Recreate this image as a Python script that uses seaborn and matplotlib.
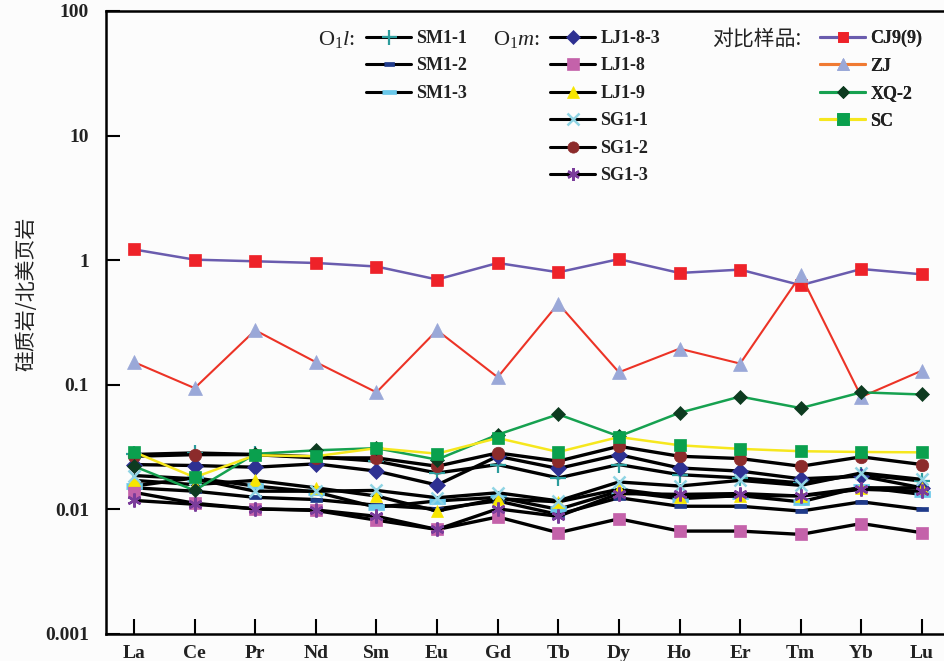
import numpy as np
import pandas as pd
import matplotlib
matplotlib.use("Agg")
import matplotlib.pyplot as plt
from matplotlib.lines import Line2D
import seaborn as sns

# Rare earth elements (x axis)
elements = ["La", "Ce", "Pr", "Nd", "Sm", "Eu", "Gd", "Tb", "Dy", "Ho", "Er", "Tm", "Yb", "Lu"]

# O1l samples
sm1_1 = [0.0276, 0.0284, 0.0276, 0.0264, 0.0244, 0.0196, 0.0229, 0.0179, 0.0229, 0.0190, 0.0179, 0.0163, 0.0190, 0.0169]
sm1_2 = [0.0149, 0.0140, 0.0125, 0.0120, 0.0108, 0.0101, 0.0117, 0.0091, 0.0124, 0.0106, 0.0106, 0.0097, 0.0115, 0.0100]
sm1_3 = [0.0154, 0.0179, 0.0154, 0.0138, 0.0104, 0.0117, 0.0125, 0.0100, 0.0140, 0.0122, 0.0129, 0.0115, 0.0151, 0.0132]

# O1m samples
lj1_8_3 = [0.0229, 0.0225, 0.0218, 0.0232, 0.0203, 0.0157, 0.0267, 0.0213, 0.0275, 0.0215, 0.0203, 0.0176, 0.0185, 0.0149]
lj1_8 = [0.0137, 0.0112, 0.0101, 0.0098, 0.0082, 0.0069, 0.0087, 0.0065, 0.0084, 0.0067, 0.0067, 0.0063, 0.0077, 0.0065]
lj1_9 = [0.0171, 0.0158, 0.0171, 0.0149, 0.0128, 0.0097, 0.0122, 0.0115, 0.0145, 0.0126, 0.0128, 0.0129, 0.0149, 0.0149]
sg1_1 = [0.0187, 0.0176, 0.0140, 0.0140, 0.0142, 0.0124, 0.0136, 0.0117, 0.0166, 0.0154, 0.0171, 0.0156, 0.0196, 0.0174]
sg1_2 = [0.0267, 0.0275, 0.0275, 0.0259, 0.0259, 0.0222, 0.0284, 0.0244, 0.0321, 0.0267, 0.0256, 0.0222, 0.0264, 0.0229]
sg1_3 = [0.0118, 0.0110, 0.0101, 0.0099, 0.0088, 0.0069, 0.0101, 0.0088, 0.0134, 0.0132, 0.0134, 0.0128, 0.0145, 0.0140]

# Reference samples
cj9_9 = [1.22, 1.01, 0.98, 0.95, 0.89, 0.70, 0.95, 0.80, 1.02, 0.79, 0.84, 0.63, 0.85, 0.77]
zj = [0.152, 0.094, 0.274, 0.152, 0.087, 0.274, 0.115, 0.448, 0.126, 0.195, 0.148, 0.76, 0.080, 0.130]
xq_2 = [0.0222, 0.0142, 0.0279, 0.0298, 0.0310, 0.0251, 0.0398, 0.0580, 0.0386, 0.0596, 0.0805, 0.0650, 0.0870, 0.0836]
sc = [0.0289, 0.0181, 0.0272, 0.0267, 0.0310, 0.0280, 0.0374, 0.0289, 0.0381, 0.0327, 0.0306, 0.0293, 0.0289, 0.0287]

y_ticks = [0.001, 0.01, 0.1, 1, 10, 100]
y_tick_labels = ["0.001", "0.01", "0.1", "1", "10", "100"]

sns.set_theme(style="ticks")
plt.rcParams["font.family"] = ["Liberation Serif", "Noto Sans CJK SC", "DejaVu Sans"]
plt.rcParams["mathtext.fontset"] = "custom"
plt.rcParams["mathtext.rm"] = "Liberation Serif"
plt.rcParams["mathtext.it"] = "Liberation Serif:italic"

BG = "#fcfcfc"
fig = plt.figure(figsize=(9.45, 6.61), dpi=100, facecolor=BG)
ax = fig.add_axes([105.7 / 945, 27 / 661, 1 - 105.7 / 945, 623 / 661])
ax.set_facecolor(BG)

rect = [(-1, -0.35), (1, -0.35), (1, 0.35), (-1, 0.35)]
asterisk = (6, 2, 0)

BLACK_LW = 2.4
styles = [
    # name, values, line color, marker, face, edge, size, mew, lw, z
    ("SM1-1", sm1_1, "black", "+", "#2c9c9c", "#2c9c9c", 12, 1.6, BLACK_LW, 3),
    ("SM1-2", sm1_2, "black", rect, "#1f3a8a", "#1f3a8a", 8, 0.5, BLACK_LW, 3),
    ("SM1-3", sm1_3, "black", rect, "#69c8ea", "#69c8ea", 11, 0.5, BLACK_LW, 3),
    ("LJ1-8-3", lj1_8_3, "black", "D", "#2e3192", "#2e3192", 8, 0.5, BLACK_LW, 3),
    ("LJ1-8", lj1_8, "black", "s", "#c462aa", "#c462aa", 9, 0.5, BLACK_LW, 3),
    ("LJ1-9", lj1_9, "black", "^", "#f7e600", "#f7e600", 9, 0.5, BLACK_LW, 3),
    ("SG1-1", sg1_1, "black", "x", "#90d4e4", "#90d4e4", 9, 1.8, BLACK_LW, 3),
    ("SG1-2", sg1_2, "black", "o", "#8c2b2b", "#8c2b2b", 9, 0.5, BLACK_LW, 3),
    ("SG1-3", sg1_3, "black", asterisk, "#7b3d9b", "#7b3d9b", 10, 1.8, BLACK_LW, 3),
    ("CJ9(9)", cj9_9, "#6a5cae", "s", "#ee2229", "#ee2229", 8, 0.5, 1.8, 4),
    ("ZJ", zj, "#ec3326", "^", "#9aa8d8", "#9aa8d8", 10, 0.5, 1.5, 4),
    ("XQ-2", xq_2, "#16a150", "D", "#0d3b20", "#0d3b20", 7, 0.5, 1.8, 5),
    ("SC", sc, "#f6e71e", "s", "#0aa04e", "#0aa04e", 9, 0.5, 1.8, 5),
]

for name, vals, lc, mk, fc, ec, ms, mew, lw, z in styles:
    df = pd.DataFrame({"element": elements, "value": vals})
    sns.lineplot(data=df, x="element", y="value", ax=ax, sort=False, color=lc,
                 linewidth=lw, marker=mk, markersize=ms, markerfacecolor=fc,
                 markeredgecolor=ec, markeredgewidth=mew, zorder=z, legend=False)

ax.set_yscale("log")
ax.set_ylim(0.001, 100)
ax.set_xlim(-0.467, 13.38)
ax.set_yticks(y_ticks)
ax.set_yticklabels(y_tick_labels)
ax.minorticks_off()
ax.yaxis.set_minor_locator(matplotlib.ticker.NullLocator())
ax.set_xticks(range(len(elements)))
ax.set_xticklabels(elements)
ax.set_xlabel("")
ax.set_ylabel("")
ax.tick_params(axis="x", direction="in", length=11, width=1.5, colors="black",
               labelsize=14, pad=8)
ax.tick_params(axis="y", direction="in", length=10, width=1.5, colors="black",
               labelsize=14, pad=12)
for lab in ax.get_xticklabels() + ax.get_yticklabels():
    lab.set_fontweight("bold")
    lab.set_color("#222222")
for side in ["left", "bottom", "top"]:
    ax.spines[side].set_linewidth(1.8)
    ax.spines[side].set_color("black")
ax.spines["right"].set_visible(False)

fig.text(26 / 945, 1 - 294 / 661, "硅质岩/北美页岩", rotation=90, ha="center", va="center",
         fontsize=15, family=["Noto Sans CJK SC"], color="#222222")

# Legends in three groups
def handle(lc, mk, fc, ec, ms, mew):
    return Line2D([], [], color=lc, linewidth=2.2, marker=mk, markersize=ms,
                  markerfacecolor=fc, markeredgecolor=ec, markeredgewidth=mew)

legend_line_colors = {"ZJ": "#f07a32"}
groups = [(styles[0:3], 366), (styles[3:9], 550), (styles[9:13], 820)]
for members, x0 in groups:
    hs = [handle(legend_line_colors.get(s[0], s[2]), s[3], s[4], s[5], s[6] * 0.9, s[7]) for s in members]
    labels = [s[0] for s in members]
    leg = ax.legend(hs, labels, loc="upper left", bbox_to_anchor=(x0 / 945, 1 - 30 / 661),
                    bbox_transform=fig.transFigure, frameon=False, handlelength=2.5,
                    handletextpad=0.3, labelspacing=0.58, borderpad=0, borderaxespad=0,
                    prop={"family": "Liberation Serif", "weight": "bold", "size": 13})
    for t in leg.get_texts():
        t.set_color("#222222")
    ax.add_artist(leg)

fig.text(318 / 945, 1 - 39 / 661, r"O$_1$$\mathit{l}$:", ha="left", va="center",
         fontsize=16, color="#222222")
fig.text(493 / 945, 1 - 39 / 661, r"O$_1$$\mathit{m}$:", ha="left", va="center",
         fontsize=16, color="#222222")
fig.text(712 / 945, 1 - 39 / 661, "对比样品:", ha="left", va="center",
         fontsize=15, family=["Noto Sans CJK SC"], color="#222222")

fig.savefig("out.png", dpi=100, facecolor=BG)
